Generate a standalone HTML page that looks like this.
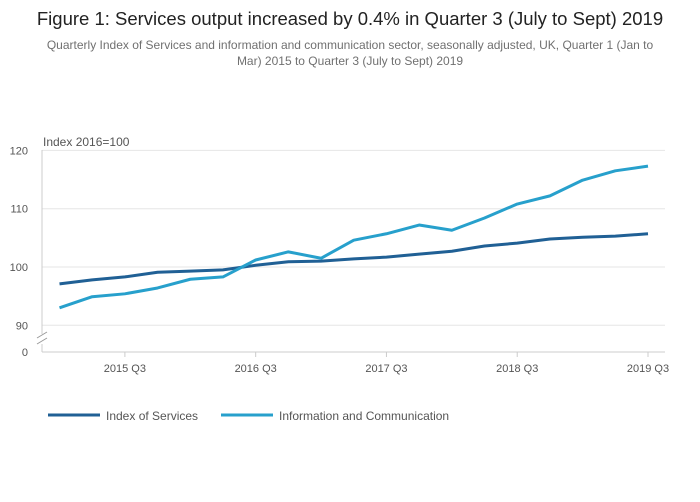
<!DOCTYPE html>
<html><head><meta charset="utf-8"><style>
body{margin:0;background:#fff;font-family:"Liberation Sans",sans-serif;}
#wrap{position:relative;width:700px;height:502px;overflow:hidden;}
.t{position:absolute;left:0;width:700px;text-align:center;}
</style></head><body>
<div id="wrap">
<div class="t" style="top:8px;font-size:18.5px;color:#222;">Figure 1: Services output increased by 0.4% in Quarter 3 (July to Sept) 2019</div>
<div class="t" style="top:37px;font-size:12px;color:#707070;line-height:16px;padding:0 42px;box-sizing:border-box;">Quarterly Index of Services and information and communication sector, seasonally adjusted, UK, Quarter 1 (Jan to Mar) 2015 to Quarter 3 (July to Sept) 2019</div>
<svg id="chart" width="700" height="502" style="position:absolute;left:0;top:0"></svg>
</div>
<script>
const categories=["2015 Q1","2015 Q2","2015 Q3","2015 Q4","2016 Q1","2016 Q2","2016 Q3","2016 Q4","2017 Q1","2017 Q2","2017 Q3","2017 Q4","2018 Q1","2018 Q2","2018 Q3","2018 Q4","2019 Q1","2019 Q2","2019 Q3"];
const servicesValues=[97.1,97.8,98.3,99.1,99.3,99.5,100.3,100.9,101.0,101.4,101.7,102.2,102.7,103.6,104.1,104.8,105.1,105.3,105.7];
const infoCommValues=[93.0,94.9,95.4,96.4,97.9,98.3,101.2,102.6,101.5,104.6,105.7,107.2,106.3,108.4,110.8,112.2,114.9,116.5,117.3];
const yTicks=[90,100,110,120];
const xTickLabels=["2015 Q3","2016 Q3","2017 Q3","2018 Q3","2019 Q3"];
const seriesNames=["Index of Services","Information and Communication"];
const colors=["#206095","#27a0cc"];
const svg=document.getElementById('chart');
const NS="http://www.w3.org/2000/svg";
function xS(i){return 59.5+i*(648-59.5)/18;}
function yS(v){return 267-(v-100)*5.83;}
function mk(tag,attrs,name){const e=document.createElementNS(NS,tag);for(const k in attrs)e.setAttribute(k,attrs[k]);


svg.appendChild(e);return e;}
yTicks.forEach(v=>{mk('line',{x1:42,x2:665,y1:yS(v),y2:yS(v),stroke:'#e6e6e6','stroke-width':1},'gridline-'+v);
const t=mk('text',{x:28,y:yS(v)+4,'font-size':11,fill:'#555','text-anchor':'end'},'y-tick-'+v);t.textContent=v;});
mk('line',{x1:42,x2:665,y1:352,y2:352,stroke:'#ccc'},'x-axis-line');
const z=mk('text',{x:28,y:356,'font-size':11,fill:'#555','text-anchor':'end'},'y-tick-0');z.textContent='0';
mk('line',{x1:42,x2:42,y1:150,y2:334,stroke:'#ccc'},'y-axis-line');
mk('line',{x1:42,x2:42,y1:344,y2:352,stroke:'#ccc'},'y-axis-line-lower');
mk('path',{d:'M37,338 L47,332 M37,344 L47,338',stroke:'#999',fill:'none'},'axis-break');
const it=mk('text',{x:43,y:146,'font-size':12,fill:'#555'},'y-axis-title');it.textContent='Index 2016=100';
xTickLabels.forEach(l=>{const i=categories.indexOf(l);
mk('line',{x1:xS(i),x2:xS(i),y1:352,y2:357,stroke:'#ccc'},'x-tick-mark');
const t=mk('text',{x:xS(i),y:372,'font-size':11,fill:'#555','text-anchor':'middle'},'x-tick-label');t.textContent=l;});
[servicesValues,infoCommValues].forEach((vals,s)=>{
mk('path',{d:vals.map((v,i)=>(i?'L':'M')+xS(i)+','+yS(v)).join(' '),stroke:colors[s],'stroke-width':3,fill:'none','stroke-linejoin':'round'},s?'line-information-communication':'line-index-of-services');});
const lx=[48,221];
seriesNames.forEach((n,s)=>{mk('line',{x1:lx[s],x2:lx[s]+52,y1:415,y2:415,stroke:colors[s],'stroke-width':3},'legend-swatch');
const t=mk('text',{x:lx[s]+58,y:420,'font-size':12,fill:'#555'},'legend-entry');t.textContent=n;});
</script>
</body></html>
